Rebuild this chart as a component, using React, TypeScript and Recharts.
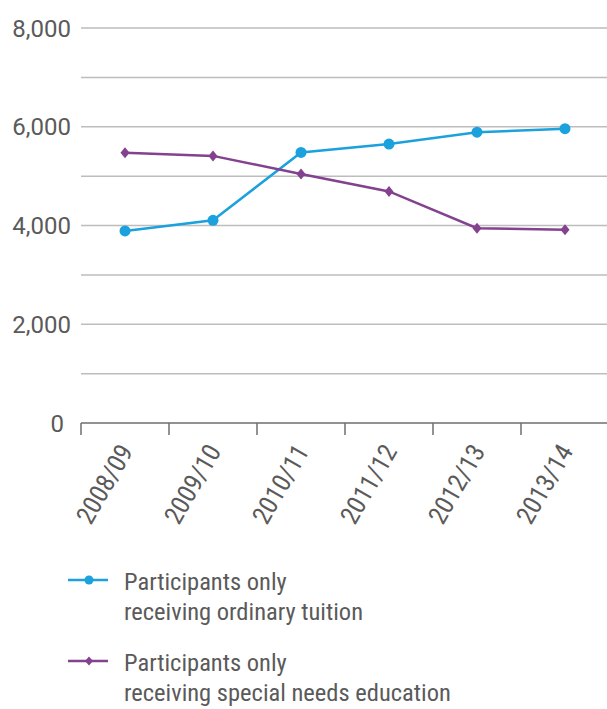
import { LineChart, Line, XAxis, YAxis, ReferenceLine, Legend } from 'recharts'

// seasons along the x axis
const seasons = ['2008/09', '2009/10', '2010/11', '2011/12', '2012/13', '2013/14']

// participants per season
const ordinaryTuition = [3890, 4105, 5480, 5650, 5890, 5960]
const specialNeeds = [5475, 5410, 5045, 4690, 3945, 3915]

const yTicks = [0, 2000, 4000, 6000, 8000]
const gridValues = [1000, 2000, 3000, 4000, 5000, 6000, 7000, 8000]
const xTicks = [0, 1, 2, 3, 4, 5]

const legendItems = [
  { key: 'ordinary', lines: ['Participants only', 'receiving ordinary tuition'] },
  { key: 'special', lines: ['Participants only', 'receiving special needs education'] },
]

const BLUE = '#1ba1dd'
const PURPLE = '#83418f'
const TEXT = '#5a5a5a'
const AXIS = '#6e6e6e'
const GRID = '#bdbdbd'
const FONT = 'Roboto, sans-serif'
const NARROW = 'condensed'

// half of one season band, in px (plot is 528px wide, 6 bands)
const BAND_HALF = 44

const rows = seasons.map((s, i) => ({
  x: i + 0.5,
  season: s,
  ordinary: ordinaryTuition[i],
  special: specialNeeds[i],
}))

function Diamond(props: any) {
  const { cx, cy, key } = props
  if (cx == null || cy == null) return null
  return (
    <polygon
      key={key}
      points={`${cx},${cy - 5.5} ${cx + 4.5},${cy} ${cx},${cy + 5.5} ${cx - 4.5},${cy}`}
      fill={PURPLE}
    />
  )
}

function SeasonTick(props: any) {
  const { x, y, payload } = props
  const label = seasons[payload.value]
  if (!label) return null
  const ax = x + BAND_HALF + 9
  const ay = y + 14
  return (
    <text
      x={ax}
      y={ay}
      textAnchor="end"
      transform={`rotate(-60, ${ax}, ${ay})`}
      fill={TEXT}
      fontSize={26}
      fontFamily={FONT}
      style={{ fontStretch: NARROW }}
    >
      {label}
    </text>
  )
}

function ValueTick(props: any) {
  const { x, y, payload } = props
  // the zero label sits a little further left than the others
  const shift = payload.value === 0 ? -7 : 0
  return (
    <text x={x + shift} y={y} dy="0.355em" textAnchor="end" fill={TEXT} fontSize={24} fontFamily={FONT}>
      {payload.value.toLocaleString('en-US')}
    </text>
  )
}

function LegendBlock() {
  return (
    <div style={{ height: 150, position: 'relative', fontFamily: FONT, color: TEXT }}>
      {legendItems.map((item, i) => (
        <div
          key={item.key}
          style={{ position: 'absolute', left: 0, top: 8 + i * 81, width: 607 }}
        >
          <svg width={42} height={14} style={{ position: 'absolute', left: 67, top: 6 }}>
            <line x1={1} y1={7} x2={41} y2={7} stroke={i === 0 ? BLUE : PURPLE} strokeWidth={2.5} />
            {i === 0 ? (
              <circle cx={22} cy={7} r={4.5} fill={BLUE} />
            ) : (
              <polygon points="22,2.5 26,7 22,11.5 18,7" fill={PURPLE} />
            )}
          </svg>
          <div
            style={{
              position: 'absolute',
              left: 124,
              top: 0,
              fontSize: 24.5,
              lineHeight: '30px',
              whiteSpace: 'nowrap',
              fontStretch: NARROW,
            }}
          >
            {item.lines.map((t) => (
              <div key={t}>{t}</div>
            ))}
          </div>
        </div>
      ))}
    </div>
  )
}

export default function App() {
  return (
    <div style={{ position: 'absolute', left: 0, top: 0, width: 607, height: 709, overflow: 'hidden', background: '#fff' }}>
      <LineChart width={612} height={709} data={rows} margin={{ top: 28, right: 3, left: 0, bottom: 0 }}>
        {gridValues.map((v) => (
          <ReferenceLine key={v} y={v} stroke={GRID} strokeWidth={1.5} />
        ))}
        <XAxis
          dataKey="x"
          type="number"
          domain={[0, 6]}
          ticks={xTicks}
          interval={0}
          height={136}
          tickSize={12}
          axisLine={{ stroke: AXIS, strokeWidth: 1.5 }}
          tickLine={{ stroke: AXIS, strokeWidth: 1.5 }}
          tick={<SeasonTick />}
        />
        <YAxis
          type="number"
          domain={[0, 8000]}
          ticks={yTicks}
          width={81}
          axisLine={false}
          tickLine={false}
          tickSize={0}
          tickMargin={10}
          tick={<ValueTick />}
        />
        <Line
          type="linear"
          dataKey="ordinary"
          stroke={BLUE}
          strokeWidth={2.5}
          dot={{ r: 5.5, fill: BLUE, stroke: BLUE, strokeWidth: 0 }}
          isAnimationActive={false}
        />
        <Line
          type="linear"
          dataKey="special"
          stroke={PURPLE}
          strokeWidth={2.5}
          dot={<Diamond />}
          isAnimationActive={false}
        />
        <Legend verticalAlign="bottom" content={<LegendBlock />} wrapperStyle={{ left: 0, width: 607 }} />
      </LineChart>
    </div>
  )
}
